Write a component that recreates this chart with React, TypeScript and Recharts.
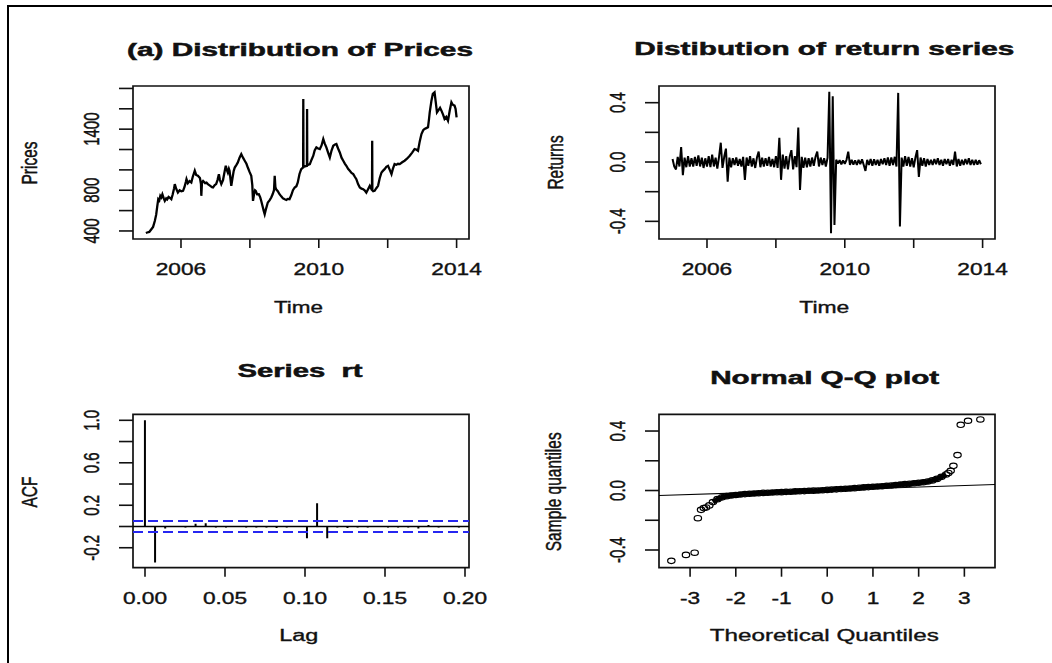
import React from 'react';
import {
  LineChart,
  Line,
  ComposedChart,
  Bar,
  Scatter,
  XAxis,
  YAxis,
  ReferenceArea,
  ReferenceLine,
  Customized,
} from 'recharts';

const FONT = '"Liberation Sans", Arial, sans-serif';
const INK = '#111';

// (a) prices: decimal year / price
const priceDates = [
  2004.98, 2005.02, 2005.08, 2005.14, 2005.19, 2005.24, 2005.28, 2005.31, 2005.34, 2005.37, 2005.4, 2005.43,
  2005.46, 2005.5, 2005.53, 2005.57, 2005.6, 2005.64, 2005.68, 2005.72, 2005.76, 2005.8, 2005.82, 2005.86,
  2005.91, 2005.96, 2006.01, 2006.06, 2006.1, 2006.14, 2006.16, 2006.2, 2006.25, 2006.3, 2006.34, 2006.38,
  2006.4, 2006.44, 2006.49, 2006.55, 2006.58, 2006.59, 2006.61, 2006.64, 2006.7, 2006.74, 2006.78, 2006.84,
  2006.9, 2006.93, 2006.98, 2007.02, 2007.06, 2007.1, 2007.13, 2007.17, 2007.22, 2007.27, 2007.3, 2007.33,
  2007.36, 2007.39, 2007.41, 2007.44, 2007.46, 2007.5, 2007.53, 2007.56, 2007.61, 2007.65, 2007.7, 2007.75,
  2007.8, 2007.85, 2007.9, 2007.94, 2007.99, 2008.04, 2008.07, 2008.09, 2008.12, 2008.15, 2008.17, 2008.21,
  2008.26, 2008.3, 2008.33, 2008.37, 2008.4, 2008.43, 2008.47, 2008.52, 2008.57, 2008.62, 2008.66, 2008.7,
  2008.72, 2008.74, 2008.76, 2008.81, 2008.86, 2008.91, 2008.96, 2009.01, 2009.06, 2009.1, 2009.15, 2009.2,
  2009.25, 2009.3, 2009.35, 2009.39, 2009.44, 2009.49, 2009.53, 2009.545, 2009.55, 2009.555, 2009.6, 2009.655,
  2009.66, 2009.665, 2009.7, 2009.74, 2009.79, 2009.84, 2009.88, 2009.93, 2009.98, 2010.03, 2010.08, 2010.13,
  2010.17, 2010.22, 2010.27, 2010.32, 2010.37, 2010.42, 2010.47, 2010.51, 2010.56, 2010.61, 2010.66, 2010.71,
  2010.76, 2010.8, 2010.85, 2010.9, 2010.95, 2011.0, 2011.05, 2011.09, 2011.14, 2011.19, 2011.24, 2011.29,
  2011.33, 2011.38, 2011.43, 2011.48, 2011.545, 2011.55, 2011.555, 2011.58, 2011.62, 2011.67, 2011.72, 2011.77,
  2011.82, 2011.86, 2011.91, 2011.96, 2012.01, 2012.06, 2012.11, 2012.15, 2012.2, 2012.25, 2012.3, 2012.35,
  2012.42, 2012.49, 2012.56, 2012.64, 2012.71, 2012.78, 2012.83, 2012.88, 2012.93, 2012.98, 2013.03, 2013.07,
  2013.12, 2013.17, 2013.2, 2013.22, 2013.27, 2013.31, 2013.36, 2013.4, 2013.43, 2013.48, 2013.52, 2013.56,
  2013.61, 2013.65, 2013.7, 2013.75, 2013.8, 2013.85, 2013.89, 2013.94, 2013.97, 2014.0,
];
const prices = [
  380, 385, 390, 417, 440, 498, 560, 640, 712, 700, 745, 730,
  760, 720, 695, 720, 710, 735, 725, 712, 760, 820, 860, 815,
  777, 800, 790, 794, 830, 880, 909, 870, 890, 876, 930, 970,
  991, 950, 942, 920, 860, 745, 880, 892, 870, 875, 860, 845,
  830, 827, 850, 860, 900, 958, 900, 860, 900, 990, 1040, 1000,
  974, 1010, 991, 900, 843, 930, 990, 1023, 1050, 1073, 1120, 1155,
  1120, 1090, 1060, 1023, 980, 942, 850, 695, 760, 800, 794, 760,
  761, 730, 695, 640, 600, 564, 620, 679, 700, 728, 760, 800,
  942, 830, 810, 790, 761, 740, 720, 712, 705, 715, 712, 750,
  800, 827, 840, 876, 960, 1007, 1020, 1023, 1697, 1030, 1035, 1040,
  1599, 1045, 1050, 1057, 1100, 1139, 1190, 1221, 1210, 1205, 1240, 1303,
  1260, 1221, 1170, 1122, 1190, 1237, 1250, 1254, 1210, 1171, 1120, 1090,
  1060, 1040, 1010, 991, 970, 958, 930, 909, 860, 827, 815, 810,
  800, 777, 810, 843, 800, 1287, 800, 790, 794, 820, 843, 920,
  974, 990, 1007, 1030, 1040, 1000, 958, 1010, 1057, 1050, 1060, 1057,
  1075, 1090, 1110, 1139, 1170, 1205, 1200, 1188, 1280, 1352, 1390, 1402,
  1410, 1418, 1500, 1565, 1680, 1747, 1762, 1650, 1565, 1590, 1610, 1582,
  1540, 1500, 1520, 1484, 1580, 1664, 1640, 1631, 1600, 1516,
];

// return series, one value per 0.05 year starting 2005.0
const returnStart = 2005.0;
const returnStep = 0.05;
const returns = [
  0.02, -0.03, -0.05, 0.035, -0.03, 0.1, -0.088, 0.03, -0.035, 0.04,
  -0.03, 0.025, -0.03, 0.035, -0.025, 0.045, -0.03, 0.03, -0.04, 0.025,
  -0.03, 0.04, -0.035, 0.05, -0.03, 0.03, -0.045, 0.035, 0.13, -0.04,
  0.035, 0.09, -0.133, 0.03, -0.035, 0.025, -0.02, 0.03, -0.025, 0.02,
  -0.03, 0.035, -0.12, 0.03, -0.025, 0.04, -0.03, 0.025, -0.04, 0.03,
  0.07, -0.035, 0.03, -0.03, 0.025, -0.025, 0.035, -0.03, 0.02, -0.035,
  0.04, -0.04, 0.164, -0.12, 0.05, -0.045, 0.04, -0.05, 0.035, 0.08,
  -0.05, 0.04, -0.035, 0.233, -0.188, 0.035, -0.04, 0.03, -0.035, 0.025,
  -0.03, 0.03, -0.025, 0.035, 0.07, -0.03, 0.03, -0.02, 0.025, -0.03,
  0.03, 0.473, -0.48, 0.444, -0.424, 0.015, -0.01, 0.012, -0.015, 0.01,
  -0.012, 0.015, 0.07, -0.02, 0.015, -0.018, 0.012, -0.02, 0.015, -0.015,
  0.018, -0.02, -0.06, 0.015, -0.02, 0.02, -0.025, 0.018, -0.02, 0.015,
  -0.025, 0.02, -0.015, 0.025, -0.02, 0.03, -0.025, 0.03, -0.02, 0.035,
  -0.03, 0.466, -0.435, 0.03, -0.03, 0.04, -0.025, 0.035, -0.03, 0.025,
  -0.035, 0.03, 0.08, -0.1, 0.03, -0.025, 0.025, -0.03, 0.02, -0.02,
  0.015, -0.02, 0.02, -0.015, 0.025, -0.02, 0.015, -0.025, 0.02, -0.015,
  0.02, -0.025, 0.015, -0.02, 0.07, -0.03, 0.02, -0.025, 0.015, -0.02,
  0.02, -0.015, 0.025, -0.02, 0.015, -0.02, 0.015, -0.018, 0.012, -0.015,
];

// ACF of rt, lags k / acfFreq
const acfFreq = 158;
const acfValues = [
  1.0, -0.34, -0.02, 0.005, -0.01, 0.025, 0.03, -0.01, -0.01, 0.004, -0.01, -0.01, -0.01, -0.015, -0.01, 0.005,
  -0.11, 0.22, -0.11, -0.01, -0.015, -0.01, -0.01, 0.004, -0.01, -0.01, -0.01, -0.02, 0.015, -0.01, 0.004, -0.01,
];
const acfBand = 0.052;

// Q-Q plot
const qqTheoCore = [
  -2.5, -2.4, -2.3, -2.2, -2.1, -2.0, -1.9, -1.8, -1.7, -1.6, -1.5, -1.4, -1.3, -1.2, -1.1, -1.0, -0.9, -0.8,
  -0.7, -0.6, -0.5, -0.4, -0.3, -0.2, -0.1, 0, 0.1, 0.2, 0.3, 0.4, 0.5, 0.6, 0.7, 0.8, 0.9, 1.0, 1.1, 1.2,
  1.3, 1.4, 1.5, 1.6, 1.7, 1.8, 1.9, 2.0, 2.1, 2.2, 2.3, 2.4, 2.5, 2.6,
];
const qqSampleCore = [
  -0.078, -0.058, -0.046, -0.038, -0.034, -0.03, -0.027, -0.024, -0.022, -0.02, -0.018, -0.016, -0.015, -0.013,
  -0.012, -0.011, -0.009, -0.008, -0.006, -0.005, -0.004, -0.002, -0.001, 0.0, 0.002, 0.004, 0.006, 0.008, 0.01,
  0.012, 0.014, 0.016, 0.019, 0.021, 0.023, 0.025, 0.027, 0.029, 0.032, 0.034, 0.037, 0.04, 0.043, 0.046, 0.049,
  0.052, 0.056, 0.061, 0.068, 0.078, 0.092, 0.108,
];
const qqTheoTail = [-3.41, -3.09, -2.9, -2.83, -2.76, -2.7, -2.65, -2.58, 2.65, 2.7, 2.76, 2.85, 2.92, 3.08, 3.35];
const qqSampleTail = [-0.473, -0.433, -0.418, -0.186, -0.13, -0.118, -0.114, -0.1, 0.118, 0.133, 0.166, 0.238, 0.442, 0.469, 0.478];
const qqLineX = [-3.68, 3.67];
const qqLineY = [-0.034, 0.04];

// ticks
const yearTicks = [2006, 2008, 2010, 2012, 2014];
const yearLabels = [2006, 2010, 2014];
const priceTicks = [400, 600, 800, 1000, 1200, 1400, 1600, 1800];
const priceLabels = [400, 800, 1400];
const retTicks = [-0.4, -0.2, 0, 0.2, 0.4];
const retLabels = [-0.4, 0, 0.4];
const acfTicks = [-0.2, 0, 0.2, 0.4, 0.6, 0.8, 1.0];
const acfLabels = [-0.2, 0.2, 0.6, 1.0];
const lagTicks = [0, 0.05, 0.1, 0.15, 0.2];
const qqTicks = [-3, -2, -1, 0, 1, 2, 3];

const priceData = priceDates.map((t, i) => ({ t, p: prices[i] }));
const returnData = returns.map((r, i) => ({ t: returnStart + i * returnStep, r }));
const acfData = acfValues.map((acf, k) => ({ lag: k / acfFreq, acf }));
const qqCore = qqTheoCore.map((x, i) => ({ x, y: qqSampleCore[i] }));
const qqTail = qqTheoTail.map((x, i) => ({ x, y: qqSampleTail[i] }));

type Panel = {
  left: number;
  top: number;
  width: number;
  height: number;
  x0: number;
  x1: number;
  y0: number;
  y1: number;
};

const P1: Panel = { left: 0, top: 0, width: 526, height: 331, x0: 133, x1: 469, y0: 86, y1: 239 };
const P2: Panel = { left: 526, top: 0, width: 526, height: 331, x0: 659, x1: 995, y0: 86, y1: 239 };
const P3: Panel = { left: 0, top: 331, width: 526, height: 332, x0: 133, x1: 469, y0: 414.3, y1: 567.7 };
const P4: Panel = { left: 526, top: 331, width: 526, height: 332, x0: 659, x1: 995, y0: 414.3, y1: 567.7 };

function SText(props: {
  x: number;
  y: number;
  sx?: number;
  rotate?: number;
  size?: number;
  bold?: boolean;
  length?: number;
  children: React.ReactNode;
}) {
  const { x, y, sx = 1, rotate = 0, size = 16, bold = false, length, children } = props;
  const t = `translate(${x},${y}) scale(${sx},1)${rotate ? ` rotate(${rotate})` : ''}`;
  return (
    <text
      transform={t}
      textAnchor="middle"
      fontFamily={FONT}
      fontSize={size}
      fontWeight={bold ? 700 : 400}
      fill={INK}
      stroke={INK}
      strokeWidth={bold ? 0.5 : 0.35}
      textLength={length}
      lengthAdjust={length ? 'spacingAndGlyphs' : undefined}
      style={{ whiteSpace: 'pre' }}
    >
      {children}
    </text>
  );
}

const has = (list: number[], v: number) => list.some((l) => Math.abs(l - v) < 1e-9);

function xTick(p: Panel, labels: number[], fmt: (v: number) => string) {
  return (props: any) => {
    const v = props.payload.value;
    if (!has(labels, v)) return <g />;
    return (
      <SText x={props.x} y={p.y1 - p.top + 36} sx={1.42}>
        {fmt(v)}
      </SText>
    );
  };
}

function yTick(p: Panel, labels: number[], fmt: (v: number) => string) {
  return (props: any) => {
    const v = props.payload.value;
    if (!has(labels, v)) return <g />;
    return (
      <SText x={p.x0 - p.left - 34} y={props.y} sx={1.45} rotate={-90} size={15}>
        {fmt(v)}
      </SText>
    );
  };
}

function Texts(p: Panel, t: { title: string; tx: number; ty: number; tw: number; xl: string; xx: number; xy: number; xw: number; yl: string; yx: number; yy: number }) {
  return (
    <Customized
      component={() => (
        <g>
          <SText x={t.tx - p.left} y={t.ty - p.top} size={18} bold length={t.tw}>
            {t.title}
          </SText>
          <SText x={t.xx - p.left} y={t.xy - p.top} size={16} length={t.xw}>
            {t.xl}
          </SText>
          <SText x={t.yx - p.left} y={t.yy - p.top} size={15.5} sx={1.45} rotate={-90}>
            {t.yl}
          </SText>
        </g>
      )}
    />
  );
}

const margin = (p: Panel) => ({ top: p.y0 - p.top, right: p.left + p.width - p.x1, left: 0, bottom: 0 });
const tickLine = { stroke: INK, strokeWidth: 1.6 };
const boxProps = { fill: 'none', fillOpacity: 0, stroke: INK, strokeWidth: 1.7, strokeOpacity: 1 };

const wrap = (p: Panel): React.CSSProperties => ({ position: 'absolute', left: p.left, top: p.top, width: p.width, height: p.height });

const fmt1 = (v: number) => v.toFixed(1);
const fmt2 = (v: number) => v.toFixed(2);
const fmt0 = (v: number) => String(v);

const qqMark = (s: any) => <ellipse cx={s.cx} cy={s.cy} rx={3.7} ry={2.7} fill="none" stroke="#000" strokeWidth={1.2} />;

export default function App() {
  const priceDom: [number, number] = [321, 1824];
  const yearDom: [number, number] = [2004.607, 2014.36];
  const retDom: [number, number] = [-0.519, 0.5125];
  const acfDom: [number, number] = [-0.388, 1.0565];
  const lagDom: [number, number] = [-0.0075, 0.2025];
  const qqDom: [number, number] = [-3.68, 3.67];

  return (
    <div style={{ position: 'fixed', left: 0, top: 0, width: 1052, height: 663, background: '#fff', overflow: 'hidden' }}>
      <div style={{ position: 'absolute', left: 7, top: 5, width: 1060, height: 700, borderLeft: '2.5px solid #000', borderTop: '2.5px solid #000' }} />

      <div style={wrap(P1)}>
        <LineChart width={P1.width} height={P1.height} data={priceData} margin={margin(P1)}>
          <XAxis dataKey="t" type="number" domain={yearDom} ticks={yearTicks} interval={0} allowDataOverflow height={P1.top + P1.height - P1.y1} axisLine={false} tickLine={tickLine} tickSize={9} tick={xTick(P1, yearLabels, fmt0)} />
          <YAxis type="number" domain={priceDom} ticks={priceTicks} interval={0} allowDataOverflow width={P1.x0 - P1.left} axisLine={false} tickLine={tickLine} tickSize={14} tick={yTick(P1, priceLabels, fmt0)} />
          <ReferenceArea x1={yearDom[0]} x2={yearDom[1]} y1={priceDom[0]} y2={priceDom[1]} {...boxProps} />
          <Line dataKey="p" type="linear" stroke="#000" strokeWidth={2.3} dot={false} isAnimationActive={false} />
          {Texts(P1, { title: '(a) Distribution of Prices', tx: 300, ty: 56, tw: 346, xl: 'Time', xx: 298.5, xy: 313, xw: 49, yl: 'Prices', yx: 37, yy: 163 })}
        </LineChart>
      </div>

      <div style={wrap(P2)}>
        <LineChart width={P2.width} height={P2.height} data={returnData} margin={margin(P2)}>
          <XAxis dataKey="t" type="number" domain={yearDom} ticks={yearTicks} interval={0} allowDataOverflow height={P2.top + P2.height - P2.y1} axisLine={false} tickLine={tickLine} tickSize={9} tick={xTick(P2, yearLabels, fmt0)} />
          <YAxis type="number" domain={retDom} ticks={retTicks} interval={0} allowDataOverflow width={P2.x0 - P2.left} axisLine={false} tickLine={tickLine} tickSize={14} tick={yTick(P2, retLabels, fmt1)} />
          <ReferenceArea x1={yearDom[0]} x2={yearDom[1]} y1={retDom[0]} y2={retDom[1]} {...boxProps} />
          <Line dataKey="r" type="linear" stroke="#000" strokeWidth={2} strokeLinejoin="bevel" dot={false} isAnimationActive={false} />
          {Texts(P2, { title: 'Distibution of return series', tx: 824.3, ty: 55, tw: 380, xl: 'Time', xx: 824.3, xy: 313, xw: 50, yl: 'Returns', yx: 563, yy: 162.5 })}
        </LineChart>
      </div>

      <div style={wrap(P3)}>
        <ComposedChart width={P3.width} height={P3.height} data={acfData} margin={margin(P3)}>
          <XAxis dataKey="lag" type="number" domain={lagDom} ticks={lagTicks} interval={0} allowDataOverflow height={P3.top + P3.height - P3.y1} axisLine={false} tickLine={tickLine} tickSize={9} tick={xTick(P3, lagTicks, fmt2)} />
          <YAxis type="number" domain={acfDom} ticks={acfTicks} interval={0} allowDataOverflow width={P3.x0 - P3.left} axisLine={false} tickLine={tickLine} tickSize={14} tick={yTick(P3, acfLabels, fmt1)} />
          <ReferenceArea x1={lagDom[0]} x2={lagDom[1]} y1={acfDom[0]} y2={acfDom[1]} {...boxProps} />
          <Bar dataKey="acf" fill="#000" barSize={2} isAnimationActive={false} />
          <ReferenceLine y={0} stroke="#000" strokeWidth={1.6} />
          <ReferenceLine y={acfBand} stroke="#2626f0" strokeWidth={1.9} strokeDasharray="10 5" />
          <ReferenceLine y={-acfBand} stroke="#2626f0" strokeWidth={1.9} strokeDasharray="10 5" />
          {Texts(P3, { title: 'Series  rt', tx: 300, ty: 376.7, tw: 125, xl: 'Lag', xx: 298.8, xy: 641, xw: 39, yl: 'ACF', yx: 37, yy: 492 })}
        </ComposedChart>
      </div>

      <div style={wrap(P4)}>
        <ComposedChart width={P4.width} height={P4.height} margin={margin(P4)}>
          <XAxis dataKey="x" type="number" domain={qqDom} ticks={qqTicks} interval={0} allowDataOverflow height={P4.top + P4.height - P4.y1} axisLine={false} tickLine={tickLine} tickSize={9} tick={xTick(P4, qqTicks, fmt0)} />
          <YAxis dataKey="y" type="number" domain={retDom} ticks={retTicks} interval={0} allowDataOverflow width={P4.x0 - P4.left} axisLine={false} tickLine={tickLine} tickSize={14} tick={yTick(P4, retLabels, fmt1)} />
          <ReferenceArea x1={qqDom[0]} x2={qqDom[1]} y1={retDom[0]} y2={retDom[1]} {...boxProps} />
          <ReferenceLine segment={[{ x: qqLineX[0], y: qqLineY[0] }, { x: qqLineX[1], y: qqLineY[1] }]} stroke="#000" strokeWidth={1.1} />
          <Scatter data={qqCore} line={{ stroke: '#000', strokeWidth: 5 }} shape={qqMark} isAnimationActive={false} />
          <Scatter data={qqTail} shape={qqMark} isAnimationActive={false} />
          {Texts(P4, { title: 'Normal Q-Q plot', tx: 824.7, ty: 384, tw: 229, xl: 'Theoretical Quantiles', xx: 824.3, xy: 641, xw: 229, yl: 'Sample quantiles', yx: 561, yy: 491.8 })}
        </ComposedChart>
      </div>
    </div>
  );
}
